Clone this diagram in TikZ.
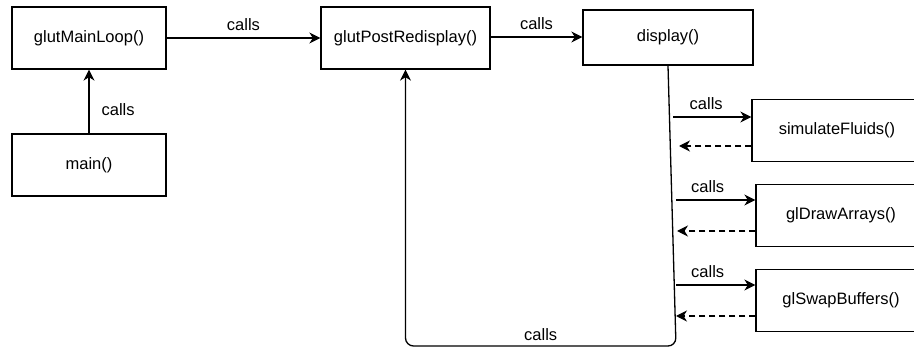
\documentclass[tikz,border=0pt]{standalone}
\usepackage{fontspec}
\setmainfont{Liberation Sans}
\usetikzlibrary{arrows.meta}
\begin{document}
\begin{tikzpicture}[x=1pt, y=-1pt,
        func/.style={rectangle, draw=black, line width=1.3pt, text centered, font=\fontsize{16.5}{19}\selectfont, minimum height=62pt},
        small/.style={func, minimum width=154pt},
        wide/.style={func, minimum width=170pt},
        lbl/.style={font=\fontsize{16.5}{19}\selectfont, inner sep=2pt},
        arrow/.style={-{Stealth[length=11pt, width=11pt, inset=3.5pt]}, line width=1.3pt},
        ret/.style={arrow, dash pattern=on 6pt off 4pt}
    ]
        \clip (0,0) rectangle (914,347);

        % Nodes
        \node[small] (loop) at (89, 38) {glutMainLoop()};
        \node[small] (main) at (89, 165) {main()};
        \node[wide, minimum width=169pt] (post) at (405.5, 38) {glutPostRedisplay()};
        \node[wide, minimum height=55pt] (display) at (668, 37.5) {display()};
        \node[wide] (sim) at (837, 130.5) {simulateFluids()};
        \node[wide] (gldraw) at (841, 215.5) {glDrawArrays()};
        \node[wide] (swap) at (841, 300.5) {glSwapBuffers()};

        % Free ends on the display line
        \coordinate (turn) at (676, 346);
        \coordinate (simout) at (673, 117);
        \coordinate (simback) at (679, 146);
        \coordinate (drawout) at (676, 200);
        \coordinate (drawback) at (677, 231);
        \coordinate (swapout) at (676, 285);
        \coordinate (swapback) at (676, 316);

        % Arrows
        \draw[arrow] (main.north) -- node[lbl, right, pos=0.37, xshift=10pt] {calls} (loop.south);
        \draw[arrow] (loop.east) -- node[lbl, midway, above, yshift=5pt] {calls} (post.west);
        \draw[arrow] (post.east |- 0,37) -- node[lbl, midway, above, yshift=5pt] {calls} (display.west |- 0,37);
        \draw[arrow, rounded corners=8pt] (display.south) -- (turn) -| node[lbl, pos=0.25, above, yshift=3pt] {calls} (post.south);

        % Calls out of display()
        \draw[arrow] (simout) -- node[lbl, midway, above, xshift=-6pt, yshift=5pt] {calls} (simout -| sim.west);
        \draw[ret] (simback -| sim.west) -- (simback);
        \draw[arrow] (drawout) -- node[lbl, midway, above, xshift=-8pt, yshift=5pt] {calls} (drawout -| gldraw.west);
        \draw[ret] (drawback -| gldraw.west) -- (drawback);
        \draw[arrow] (swapout) -- node[lbl, midway, above, xshift=-8pt, yshift=5pt] {calls} (swapout -| swap.west);
        \draw[ret] (swapback -| swap.west) -- (swapback);
    \end{tikzpicture}
\end{document}
